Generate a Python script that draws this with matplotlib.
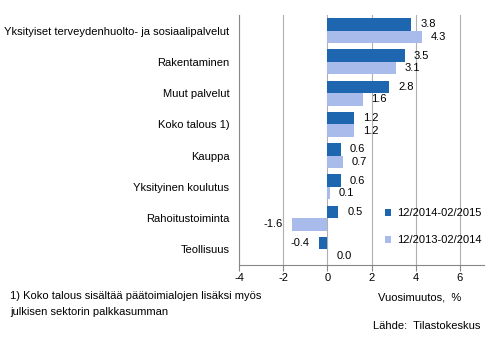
import matplotlib
matplotlib.use("Agg")
import matplotlib.pyplot as plt
import numpy as np

categories = ["Yksityiset terveydenhuolto- ja sosiaalipalvelut", "Rakentaminen",
              "Muut palvelut", "Koko talous 1)", "Kauppa", "Yksityinen koulutus",
              "Rahoitustoiminta", "Teollisuus"]
series_2015 = [3.8, 3.5, 2.8, 1.2, 0.6, 0.6, 0.5, -0.4]
series_2014 = [4.3, 3.1, 1.6, 1.2, 0.7, 0.1, -1.6, 0.0]
labels = ["12/2014-02/2015", "12/2013-02/2014"]
xticks = [-4, -2, 0, 2, 4, 6]

plt.rcParams['font.family'] = ['Liberation Sans', 'DejaVu Sans']
fs = 8
dark = "#1f66b0"
light = "#a8bbea"

fig = plt.figure(figsize=(4.94, 3.39), dpi=100)
ax = fig.add_axes([0.484, 0.218, 0.496, 0.738])

n = len(categories)
y = np.arange(n)
h = 0.4
ax.barh(y - h/2, series_2015, height=h, color=dark, label=labels[0], zorder=3)
ax.barh(y + h/2, series_2014, height=h, color=light, label=labels[1], zorder=3)

off = 0.4
for yi, v in zip(y - h/2, series_2015):
    ax.text(v + off if v >= 0 else v - off, yi, f"{v:.1f}", va="center",
            ha="left" if v >= 0 else "right", fontsize=fs)
for yi, v in zip(y + h/2, series_2014):
    ax.text(v + off if v >= 0 else v - off, yi, f"{v:.1f}", va="center",
            ha="left" if v >= 0 else "right", fontsize=fs)

ax.set_ylim(n - 0.5, -0.5)
ax.set_xlim(-4, 7.1)
ax.set_xticks(xticks)
ax.set_xticklabels([str(t) for t in xticks], fontsize=fs)
ax.set_yticks(y)
ax.set_yticklabels(categories, fontsize=fs)
ax.tick_params(axis='y', length=0, pad=7)
ax.tick_params(axis='x', length=4, color="#888888", direction="out", pad=2)
ax.xaxis.grid(True, color="#b0b0b0", linewidth=0.8, zorder=0)
for s in ["top", "right"]:
    ax.spines[s].set_visible(False)
ax.spines["left"].set_color("#888888")
ax.spines["bottom"].set_color("#888888")

leg = ax.legend(loc="lower right", bbox_to_anchor=(1.03, 0.04), frameon=False,
                fontsize=fs, handlelength=0.6, handleheight=0.6, labelspacing=1.5,
                handletextpad=0.5)

fig.text(378/494, 1 - 297/339, "Vuosimuutos,  %", fontsize=fs, ha="left", va="center")
fig.text(10/494, 1 - 296/339, "1) Koko talous sisältää päätoimialojen lisäksi myös",
         fontsize=fs, ha="left", va="center")
fig.text(10/494, 1 - 312/339, "julkisen sektorin palkkasumman", fontsize=fs, ha="left", va="center")
fig.text(480/494, 1 - 326/339, "Lähde:  Tilastokeskus", fontsize=fs, ha="right", va="center")

fig.savefig("out.png", dpi=100)
